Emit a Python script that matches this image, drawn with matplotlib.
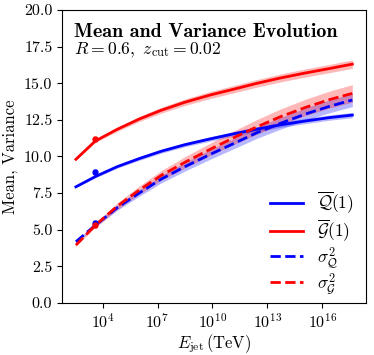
import numpy as np
import matplotlib
matplotlib.use("Agg")
import matplotlib.pyplot as plt

plt.rcParams['font.family'] = 'serif'
plt.rcParams['font.serif'] = ['cmr10']
plt.rcParams['mathtext.fontset'] = 'cm'
plt.rcParams['axes.formatter.use_mathtext'] = True
plt.rcParams['axes.unicode_minus'] = False

# log10(E_jet / TeV) where the curves were read
log_e = [2.54, 3.6, 4.8, 6.0, 7.2, 8.5, 9.9, 11.2, 12.4, 13.7, 15.1, 16.4, 17.64]

q_mean = [7.92, 8.62, 9.3, 9.85, 10.35, 10.8, 11.2, 11.55, 11.85, 12.15, 12.42, 12.65, 12.82]
g_mean = [9.80, 11.05, 11.85, 12.55, 13.15, 13.7, 14.2, 14.6, 14.98, 15.35, 15.7, 16.0, 16.3]
q_var = [4.17, 5.3, 6.5, 7.5, 8.45, 9.3, 10.15, 10.9, 11.6, 12.25, 12.9, 13.42, 13.85]
g_var = [3.94, 5.3, 6.6, 7.7, 8.7, 9.6, 10.5, 11.3, 12.0, 12.7, 13.35, 13.88, 14.3]

# half widths of the uncertainty bands
q_mean_err = [0.04, 0.08, 0.1, 0.12, 0.13, 0.14, 0.15, 0.16, 0.17, 0.17, 0.18, 0.18, 0.18]
g_mean_err = [0.05, 0.1, 0.14, 0.17, 0.2, 0.22, 0.24, 0.25, 0.26, 0.27, 0.28, 0.28, 0.29]
q_var_err = [0.05, 0.12, 0.18, 0.22, 0.26, 0.3, 0.33, 0.36, 0.38, 0.4, 0.42, 0.44, 0.45]
g_var_err = [0.05, 0.15, 0.22, 0.28, 0.33, 0.38, 0.42, 0.46, 0.5, 0.53, 0.56, 0.58, 0.6]

# measured points
pt_log_e = 3.6
pt_vals = [8.95, 11.2, 5.42, 5.33]
pt_errs = [0.15, 0.15, 0.15, 0.15]
pt_cols = ['blue', 'red', 'blue', 'red']

E = 10.0 ** np.array(log_e)

fig = plt.figure(figsize=(3.74, 3.55), dpi=100)
ax = fig.add_axes([0.166, 0.147, 0.813, 0.825])

for y, err, col, ls, lab in [
    (q_mean, q_mean_err, 'blue', '-', r'$\overline{\mathcal{Q}}(1)$'),
    (g_mean, g_mean_err, 'red', '-', r'$\overline{\mathcal{G}}(1)$'),
    (q_var, q_var_err, 'blue', '--', r'$\sigma^2_{\mathcal{Q}}$'),
    (g_var, g_var_err, 'red', '--', r'$\sigma^2_{\mathcal{G}}$'),
]:
    y = np.array(y)
    err = np.array(err)
    ax.fill_between(E, y - err, y + err, color=col, alpha=0.28, lw=0)
    ax.plot(E, y, color=col, ls=ls, lw=2, label=lab)

for v, e, c in zip(pt_vals, pt_errs, pt_cols):
    ax.errorbar([10 ** pt_log_e], [v], yerr=[e], fmt='o', ms=3.5, color=c, capsize=1.5, lw=1)

ax.set_xscale('log')
ax.set_ylim(0, 20)
ax.set_yticks(np.arange(0, 20.1, 2.5))
ax.set_yticklabels(['%.1f' % t for t in np.arange(0, 20.1, 2.5)])
ax.set_xticks([1e4, 1e7, 1e10, 1e13, 1e16])
ax.minorticks_off()
ax.tick_params(labelsize=11.5, top=False, right=False)

ax.set_xlabel(r'$E_{\rm jet}\,(\rm TeV)$', fontsize=12, labelpad=1)
ax.set_ylabel('Mean, Variance', fontsize=12)

ax.text(0.04, 0.957, 'Mean and Variance Evolution', transform=ax.transAxes,
        fontsize=14.4, family='cmb10', va='top')
ax.text(0.04, 0.895, r'$R = 0.6,\ z_{\rm cut} = 0.02$', transform=ax.transAxes,
        fontsize=12.7, va='top')

ax.legend(loc='lower right', frameon=False, fontsize=12.5, handlelength=1.9,
          labelspacing=0.1, bbox_to_anchor=(1.01, -0.03))

fig.savefig('out.png', dpi=100)
